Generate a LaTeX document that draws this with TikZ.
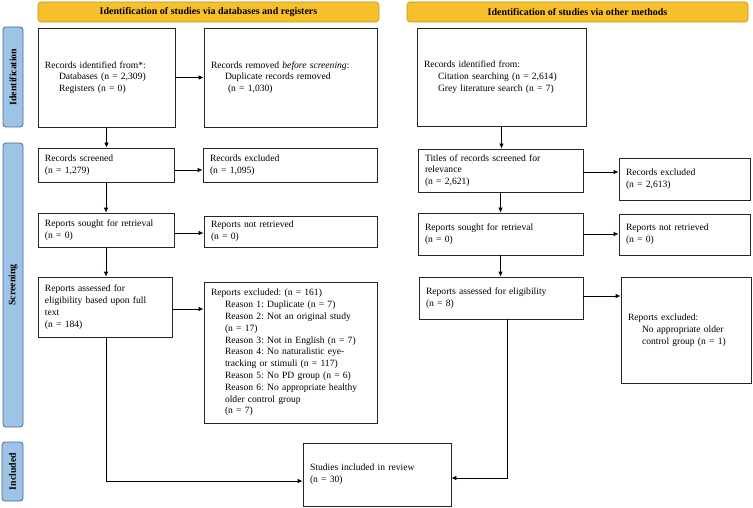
\documentclass[tikz,border=0pt]{standalone}
\usepackage{fontspec}
\setmainfont{Liberation Serif}
\usetikzlibrary{arrows.meta,positioning}
\definecolor{hdrfill}{RGB}{246,191,44}
\definecolor{hdrdraw}{RGB}{196,148,30}
\definecolor{sidefill}{RGB}{157,195,230}
\definecolor{sidedraw}{RGB}{70,110,150}
\newcommand{\bfs}{\fontsize{9.6}{11.8}\selectfont}
\newcommand{\ind}{\hspace*{14pt}}
\frenchspacing
\begin{document}
\begin{tikzpicture}[x=1pt,y=-1pt,
  box/.style={draw=black!85, line width=0.8pt, fill=white, inner xsep=7pt, inner ysep=0pt, align=left, font=\bfs, anchor=center},
  hdr/.style={draw=hdrdraw, fill=hdrfill, line width=0.6pt, rounded corners=3pt, minimum width=341pt, minimum height=20pt, inner sep=0pt, font=\fontsize{10}{11}\selectfont\bfseries},
  side/.style={draw=sidedraw, fill=sidefill, line width=0.8pt, rounded corners=3pt, minimum width=20pt, inner sep=0pt, rotate=90, font=\fontsize{9.8}{11}\selectfont\bfseries},
  arr/.style={line width=0.8pt, -{Latex[length=5pt,width=4.5pt]}},
  ln/.style={line width=0.8pt}]
\useasboundingbox (0,0) rectangle (753,508);

% headers
\node[hdr] (h1) at (208.5,12) {Identification of studies via databases and registers};
\node[hdr] (h2) at (577.5,12) {Identification of studies via other methods};

% side bars (rotated: minimum height becomes horizontal extent)
\node[side, minimum width=100pt, minimum height=20pt] (s1) at (13,77) {Identification};
\node[side, minimum width=284pt, minimum height=20pt] (s2) at (13,285) {Screening};
\node[side, minimum width=59pt, minimum height=21pt] (s3) at (12.5,471.5) {Included};

% left column
\node[box, minimum width=137pt, minimum height=99pt, text width=123pt] (A) at (106.5,77.5)
  {Records identified from*:\\ \ind Databases (n = 2,309)\\ \ind Registers (n = 0)};
\node[box, minimum width=173pt, minimum height=99pt, text width=159pt] (B) at (290.5,77.5)
  {Records removed \textit{before screening}:\\ \ind Duplicate records removed\\ \hspace*{17pt}(n = 1,030)};
\node[box, minimum width=136pt, minimum height=34pt, text width=122pt] (C) at (106,165)
  {Records screened\\ (n = 1,279)};
\node[box, minimum width=174pt, minimum height=34pt, text width=160pt] (D) at (290,165)
  {Records excluded\\ (n = 1,095)};
\node[box, minimum width=136pt, minimum height=34pt, text width=122pt] (E) at (106,230)
  {Reports sought for retrieval\\ (n = 0)};
\node[box, minimum width=173pt, minimum height=31pt, text width=159pt] (F) at (290.5,231.5)
  {Reports not retrieved\\ (n = 0)};
\node[box, minimum width=134pt, minimum height=60pt, text width=120pt] (G) at (105,307)
  {Reports assessed for\\ eligibility based upon full\\ text\\ (n = 184)};
\node[box, minimum width=173pt, minimum height=141pt, text width=159pt] (H) at (290.5,352.5)
  {Reports excluded: (n = 161)\\
   \ind Reason 1: Duplicate (n = 7)\\
   \ind Reason 2: Not an original study\\
   \ind (n = 17)\\
   \ind Reason 3: Not in English (n = 7)\\
   \ind Reason 4: No naturalistic eye-\\
   \ind tracking or stimuli (n = 117)\\
   \ind Reason 5: No PD group (n = 6)\\
   \ind Reason 6: No appropriate healthy\\
   \ind older control group\\
   \ind (n = 7)};
\node[box, minimum width=148pt, minimum height=63pt, text width=134pt] (I) at (377,474.5)
  {Studies included in review\\ (n = 30)\\[3pt]};

% right column
\node[box, minimum width=169pt, minimum height=98pt, text width=155pt] (J) at (501.5,77)
  {Records identified from:\\ \ind Citation searching (n = 2,614)\\ \ind Grey literature search (n = 7)\\[6pt]};
\node[box, minimum width=165pt, minimum height=43pt, text width=151pt] (K) at (500.5,170.5)
  {Titles of records screened for\\ relevance\\ (n = 2,621)};
\node[box, minimum width=131pt, minimum height=42pt, text width=117pt] (L) at (684.5,179)
  {Records excluded\\ (n = 2,613)};
\node[box, minimum width=165pt, minimum height=42pt, text width=151pt] (M) at (500.5,234)
  {Reports sought for retrieval\\ (n = 0)};
\node[box, minimum width=131pt, minimum height=41pt, text width=117pt] (N) at (684.5,234.5)
  {Reports not retrieved\\ (n = 0)};
\node[box, minimum width=164pt, minimum height=42pt, text width=150pt] (O) at (501,298)
  {Reports assessed for eligibility\\ (n = 8)};
\node[box, minimum width=130pt, minimum height=106pt, text width=116pt] (P) at (686,330)
  {Reports excluded:\\ \ind No appropriate older\\ \ind control group (n = 1)\\[4pt]};

% connectors left
\draw[arr] (A.east) -- (B.west);
\draw[arr] (A.south) -- (A.south |- C.north);
\draw[arr] ([yshift=-5pt]C.east) -- ([yshift=-5pt]C.east -| D.west);
\draw[arr] (C.south) -- (C.south |- E.north);
\draw[arr] ([yshift=-3pt]E.east) -- ([yshift=-3pt]E.east -| F.west);
\draw[arr] (E.south) -- (E.south |- G.north);
\draw[arr] ([yshift=-2pt]G.east) -- ([yshift=-2pt]G.east -| H.west);
\coordinate (gi) at ([yshift=-6.5pt]I.west);
\draw[arr] ([xshift=1pt]G.south) |- (gi);

% connectors right
\draw[arr] (J.south) -- (J.south |- K.north);
\draw[arr] ([yshift=-1.5pt]K.east) -- ([yshift=-1.5pt]K.east -| L.west);
\draw[arr] (K.south) -- (K.south |- M.north);
\draw[arr] (M.east) -- (M.east -| N.west);
\draw[arr] (M.south) -- (M.south |- O.north);
\draw[arr] ([yshift=2pt]O.east) -- ([yshift=2pt]O.east -| P.west);
\coordinate (oi) at ([yshift=-3.5pt]I.east);
\draw[arr] ([xshift=6pt]O.south) |- (oi);
\end{tikzpicture}
\end{document}
